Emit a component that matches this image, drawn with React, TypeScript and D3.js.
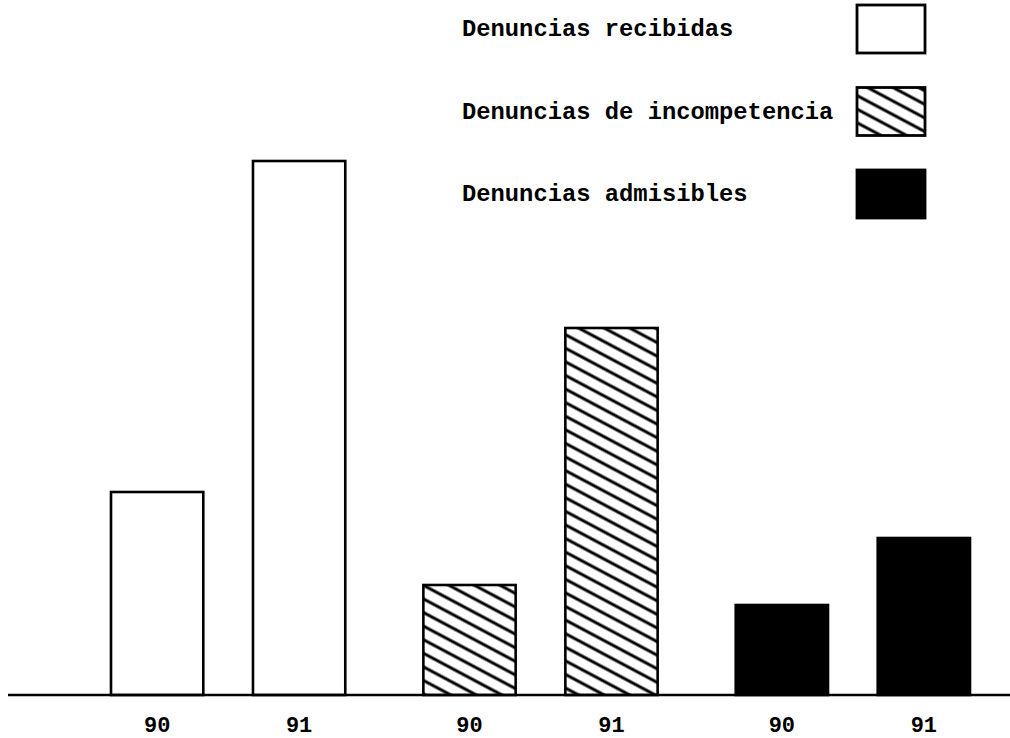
import * as d3 from 'd3';

const groups = ['recibidas', 'incompetencia', 'admisibles'];
const years = ['90', '91'];
// estimated heights (no y axis in the original)
const values90 = [203, 110, 90];
const values91 = [534, 367, 157];
const legendLabels = ['Denuncias recibidas', 'Denuncias de incompetencia', 'Denuncias admisibles'];

const W = 1010;
const H = 738;
const baseY = 695;
const FONT = '"Liberation Mono", "Courier New", monospace';

export default function App() {
  const fillFor = (g: string) =>
    g === 'recibidas' ? '#fff' : g === 'incompetencia' ? 'url(#hatch)' : '#000';

  const x0 = d3.scaleBand().domain(groups).range([111, 970]).paddingInner(0.25).paddingOuter(0);
  const x1 = d3.scaleBand().domain(years).range([0, x0.bandwidth()]).paddingInner(0.35).paddingOuter(0);
  const y = d3.scaleLinear().domain([0, 600]).range([baseY, baseY - 600]);

  const rows = groups.flatMap((g, i) => [
    { group: g, year: '90', value: values90[i] },
    { group: g, year: '91', value: values91[i] },
  ]);

  // legend placement
  const legendY = d3.scalePoint().domain(legendLabels).range([29, 194]);

  return (
    <svg width={W} height={H} style={{ position: 'absolute', left: 0, top: 0, background: '#fff' }}>
      <defs>
        <pattern id="hatch" patternUnits="userSpaceOnUse" width={12} height={12} patternTransform="rotate(28)">
          <rect width={12} height={12} fill="#fff" />
          <line x1={0} y1={6} x2={12} y2={6} stroke="#000" strokeWidth={3} />
        </pattern>
      </defs>

      {rows.map((d, i) => {
        const bx = (x0(d.group) ?? 0) + (x1(d.year) ?? 0);
        return (
          <g key={i}>
            <rect
              x={bx}
              y={y(d.value)}
              width={x1.bandwidth()}
              height={baseY - y(d.value)}
              fill={fillFor(d.group)}
              stroke="#000"
              strokeWidth={2.6}
            />
            <text
              x={bx + x1.bandwidth() / 2}
              y={732}
              textAnchor="middle"
              fontFamily={FONT}
              fontWeight="bold"
              fontSize={22}
              fill="#000"
            >
              {d.year}
            </text>
          </g>
        );
      })}

      <line x1={8} x2={W} y1={baseY} y2={baseY} stroke="#000" strokeWidth={2.6} />

      {legendLabels.map((label, i) => {
        const cy = legendY(label) ?? 0;
        return (
          <g key={label}>
            <text
              x={462}
              y={cy + 7}
              fontFamily={FONT}
              fontWeight="bold"
              fontSize={23.8}
              fill="#000"
            >
              {label}
            </text>
            <rect
              x={857}
              y={cy - 24}
              width={68}
              height={48}
              fill={fillFor(groups[i])}
              stroke="#000"
              strokeWidth={2.8}
            />
          </g>
        );
      })}
    </svg>
  );
}
